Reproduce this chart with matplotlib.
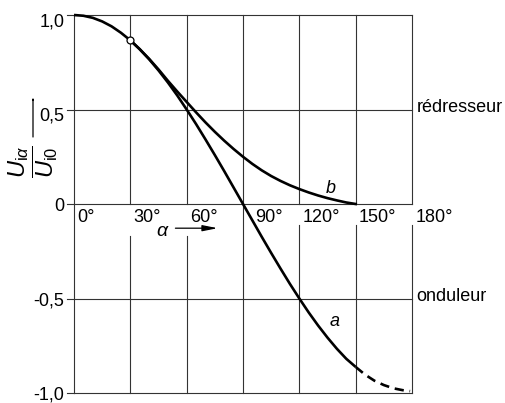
import numpy as np
import matplotlib
matplotlib.use("Agg")
import matplotlib.pyplot as plt

plt.rcParams['font.family'] = ['Liberation Sans', 'DejaVu Sans']
plt.rcParams['mathtext.fontset'] = 'custom'
plt.rcParams['mathtext.rm'] = 'Liberation Sans'
plt.rcParams['mathtext.it'] = 'Liberation Sans:italic'

# courbe a (trait plein jusqu'a 150°, puis pointillé)
alpha_a = [0, 5, 10, 15, 20, 25, 30, 35, 40, 45, 50, 55, 60, 65, 70, 75, 80, 85, 90,
           95, 100, 105, 110, 115, 120, 125, 130, 135, 140, 145, 150]
u_a = [1.0, 0.996, 0.985, 0.966, 0.94, 0.906, 0.866, 0.819, 0.766, 0.707, 0.643,
       0.574, 0.5, 0.423, 0.342, 0.259, 0.174, 0.087, 0.0, -0.087, -0.174, -0.259,
       -0.342, -0.423, -0.5, -0.574, -0.643, -0.707, -0.766, -0.819, -0.862]
alpha_a_dash = [150, 155, 160, 165, 170, 175, 179]
u_a_dash = [-0.862, -0.903, -0.935, -0.958, -0.975, -0.985, -0.99]

# courbe b (conduction discontinue)
alpha_b = [30, 35, 40, 45, 50, 55, 60, 65, 70, 75, 80, 85, 90, 95, 100, 105, 110,
           115, 120, 125, 130, 135, 140, 145, 150]
u_b = [0.866, 0.819, 0.768, 0.712, 0.652, 0.595, 0.54, 0.485, 0.432, 0.382, 0.335,
       0.291, 0.25, 0.212, 0.178, 0.148, 0.122, 0.099, 0.079, 0.061, 0.045, 0.031,
       0.019, 0.008, 0.0]

x_ticks = [0, 30, 60, 90, 120, 150, 180]
x_labels = ['0°', '30°', '60°', '90°', '120°', '150°', '180°']
y_ticks = [1.0, 0.5, 0.0, -0.5, -1.0]
y_labels = ['1,0', '0,5', '0', '-0,5', '-1,0']

W, H = 506, 403
fig = plt.figure(figsize=(W / 100, H / 100), dpi=100)
ax = fig.add_axes([74 / W, 1 - 393 / H, (412 - 74) / W, (393 - 15) / H])
ax.set_xlim(0, 180)
ax.set_ylim(-1, 1)
ax.axis('off')

gc = '#333333'
glw = 0.8
# lignes horizontales
for y in y_ticks:
    ax.plot([0, 180], [y, y], color=gc, lw=glw, clip_on=False)
    ax.plot([-3.5, 0], [y, y], color=gc, lw=glw, clip_on=False)
# lignes verticales (interrompues sous l'axe pour les étiquettes)
for x in x_ticks:
    if x in (0, 90):
        ax.plot([x, x], [-1, 1], color=gc, lw=glw, clip_on=False)
    else:
        gap = -0.17 if x in (30, 60) else -0.11
        ax.plot([x, x], [0, 1], color=gc, lw=glw, clip_on=False)
        ax.plot([x, x], [-1, gap], color=gc, lw=glw, clip_on=False)

fs = 13
for x, lab in zip(x_ticks, x_labels):
    dx = 6.5 if x == 90 else 1.8
    ax.text(x + dx, -0.025, lab, ha='left', va='top', fontsize=fs)
for y, lab in zip(y_ticks, y_labels):
    dy = 0.035 if y > 0 else 0.012
    ax.text(-5, y - dy, lab, ha='right', va='center', fontsize=fs)

# courbes
kw = dict(color='black', lw=1.9, solid_joinstyle='round', clip_on=False)
ax.plot(alpha_a, u_a, solid_capstyle='butt', **kw)
ax.plot(alpha_a_dash, u_a_dash, ls=(0, (3.5, 2.2)), dash_capstyle='butt',
        color='black', lw=1.9, clip_on=False)
ax.plot(alpha_b, u_b, **kw)
ax.plot([alpha_b[0]], [u_b[0]], 'o', ms=5, mfc='white', mec='black', mew=0.9, zorder=5)

ax.text(136.5, 0.08, 'b', fontsize=fs, style='italic', ha='center', va='center')
ax.text(139, -0.62, 'a', fontsize=fs, style='italic', ha='center', va='center')

ax.text(182.5, 0.51, 'rédresseur', fontsize=fs, ha='left', va='center')
ax.text(182.5, -0.49, 'onduleur', fontsize=fs, ha='left', va='center')

# axe alpha
ax.text(47.5, -0.145, r'$\alpha$', fontsize=fs + 1, ha='center', va='center')
ax.annotate('', xy=(76.5, -0.128), xytext=(54, -0.128),
            arrowprops=dict(arrowstyle='-|>,head_length=0.9,head_width=0.18',
                            color='black', lw=0.9, shrinkA=0, shrinkB=0))

# axe U
fig.text(33 / W, 1 - 162 / H, r'$\dfrac{U_{\mathrm{i}\alpha}}{U_{\mathrm{i}0}}$',
         fontsize=17, rotation=90, ha='center', va='center')
fig.patches.append(matplotlib.patches.FancyArrowPatch(
    (33 / W, 1 - 137 / H), (33 / W, 1 - 96 / H), transform=fig.transFigure,
    arrowstyle='-|>,head_length=0.9,head_width=0.18', color='black', lw=0.9,
    shrinkA=0, shrinkB=0))

fig.savefig('out.png', dpi=100)
